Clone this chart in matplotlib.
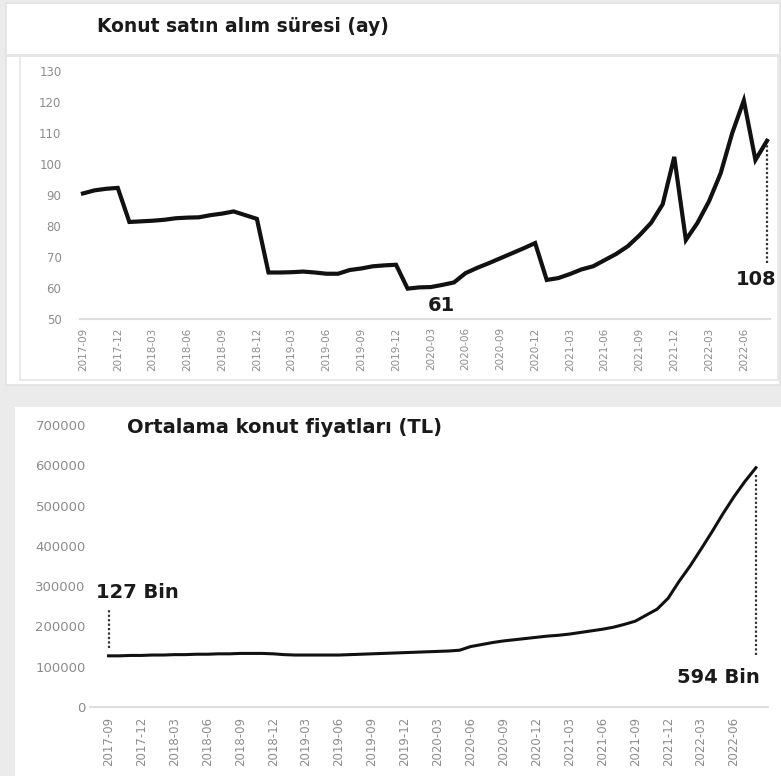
import matplotlib.pyplot as plt
from matplotlib.patches import Rectangle
from matplotlib.lines import Line2D
import numpy as np

W, H = 781, 776

# monthly, 2017-09 .. 2022-08
months = ["%d-%02d" % (2017 + (8 + k) // 12, (8 + k) % 12 + 1) for k in range(60)]

# Konut satin alim suresi (ay)
sure = [90.5, 91.5, 92.0, 92.3, 81.3, 81.5, 81.7, 82.0, 82.5, 82.7,
        82.8, 83.5, 84.0, 84.7, 83.5, 82.3, 65.0, 65.0, 65.1, 65.3,
        65.0, 64.6, 64.6, 65.8, 66.3, 67.0, 67.3, 67.5, 59.8, 60.2,
        60.3, 61.0, 61.8, 64.8, 66.5, 68.0, 69.6, 71.2, 72.8, 74.5,
        62.6, 63.2, 64.5, 66.0, 67.0, 69.0, 71.0, 73.5, 77.0, 81.0,
        87.0, 102.3, 75.5, 81.0, 88.0, 97.0, 110.0, 120.5, 101.3, 107.5]

# Ortalama konut fiyatlari (TL)
fiyat = [127, 127, 128, 128, 129, 129, 130, 130, 131, 131,
         132, 132, 133, 133, 133, 132, 130, 129, 129, 129,
         129, 129, 130, 131, 132, 133, 134, 135, 136, 137,
         138, 139, 141, 150, 155, 160, 164, 167, 170, 173,
         176, 178, 181, 185, 189, 193, 198, 205, 213, 228,
         243, 270, 312, 350, 392, 435, 480, 522, 560, 594]
fiyat = [v * 1000 for v in fiyat]

tick_idx = list(range(0, 60, 3))
tick_lab = [months[i] for i in tick_idx]

bg = "#ebebeb"
grey_txt = "#8c8c8c"
base_col = "#dedede"


def fx(x):
    return x / W


def fy(y):
    return 1 - y / H


fig = plt.figure(figsize=(W / 100, H / 100), dpi=100, facecolor=bg)

# white cards (behind the axes)
fig.add_artist(Rectangle((fx(6), fy(385)), fx(774), 382 / H, transform=fig.transFigure,
                         facecolor="white", edgecolor="#e2e2e2", lw=1.2, zorder=-10))
fig.add_artist(Rectangle((fx(20), fy(380)), fx(758), 325 / H, transform=fig.transFigure,
                         facecolor="white", edgecolor="#e6e6e6", lw=1.2, zorder=-9))
fig.add_artist(Line2D([fx(6), fx(780)], [fy(55), fy(55)], transform=fig.transFigure,
                      color="#e4e4e4", lw=2, zorder=-8))
fig.add_artist(Rectangle((fx(15), 0), fx(766), fy(407), transform=fig.transFigure,
                         facecolor="white", edgecolor="none", zorder=-10))

fig.text(fx(97), fy(27), "Konut satın alım süresi (ay)", fontsize=13.5,
         fontweight="bold", color="#1a1a1a", va="center")
fig.text(fx(127), fy(427), "Ortalama konut fiyatları (TL)", fontsize=14,
         fontweight="bold", color="#1a1a1a", va="center")

# ---- top chart
ax1 = fig.add_axes([fx(79.5), fy(319), 691 / W, 248 / H])
ax1.set_facecolor("none")
ax1.plot(range(60), sure, color="#111111", lw=3.0, solid_joinstyle="miter")
ax1.set_xlim(-0.3, 59.3)
ax1.set_ylim(50, 130)
ax1.set_yticks(range(50, 131, 10))
ax1.set_xticks(tick_idx)
ax1.set_xticklabels(tick_lab, rotation=90)
ax1.tick_params(axis="y", length=0, pad=13, labelsize=8.5, labelcolor=grey_txt)
ax1.tick_params(axis="x", length=0, pad=6, labelsize=7.5, labelcolor=grey_txt)
for s in ["top", "right", "left"]:
    ax1.spines[s].set_visible(False)
ax1.spines["bottom"].set_color(base_col)
ax1.spines["bottom"].set_linewidth(1.5)
ax1.vlines(59, 68, 106, colors="#333333", linestyles=(0, (1, 1)), lw=1.6)
ax1.text(30.9, 54.2, "61", fontsize=14, fontweight="bold", ha="center", va="center",
         color="#1a1a1a")
ax1.text(58.1, 62.6, "108", fontsize=14, fontweight="bold", ha="center", va="center",
         color="#1a1a1a")

# ---- bottom chart
ax2 = fig.add_axes([fx(90), fy(707), 678 / W, 282 / H])
ax2.set_facecolor("none")
ax2.plot(range(60), fiyat, color="#111111", lw=2.2)
ax2.set_xlim(-1.69, 60.1)
ax2.set_ylim(0, 700000)
ax2.set_yticks(range(0, 700001, 100000))
ax2.set_xticks(tick_idx)
ax2.set_xticklabels(tick_lab, rotation=90)
ax2.tick_params(axis="y", length=0, pad=3, labelsize=9.5, labelcolor=grey_txt)
ax2.tick_params(axis="x", length=0, pad=7, labelsize=8.5, labelcolor=grey_txt)
for s in ["top", "right", "left"]:
    ax2.spines[s].set_visible(False)
ax2.spines["bottom"].set_color(base_col)
ax2.spines["bottom"].set_linewidth(1.5)
ax2.vlines(0, 146000, 243000, colors="#333333", linestyles=(0, (1, 1)), lw=1.6)
ax2.vlines(59, 129000, 580000, colors="#333333", linestyles=(0, (1, 1)), lw=1.6)
ax2.text(2.64, 283000, "127 Bin", fontsize=14, fontweight="bold", ha="center",
         va="center", color="#1a1a1a")
ax2.text(55.6, 72000, "594 Bin", fontsize=14, fontweight="bold", ha="center",
         va="center", color="#1a1a1a")

fig.savefig("out.png", dpi=100, facecolor=bg)
